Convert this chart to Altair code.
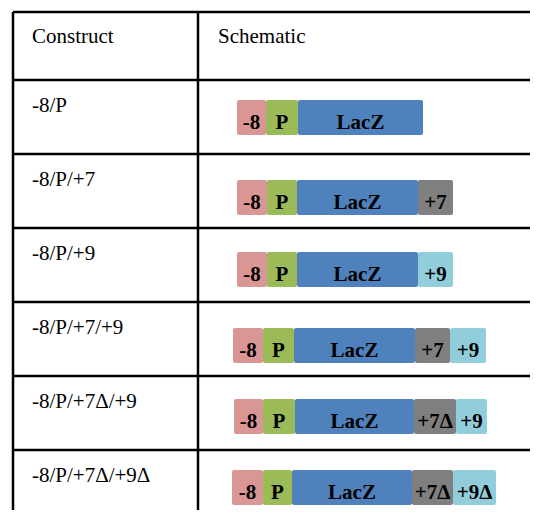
import altair as alt
import pandas as pd

# ---------------- data ----------------
headers = ["Construct", "Schematic"]
constructs = ["-8/P", "-8/P/+7", "-8/P/+9", "-8/P/+7/+9", "-8/P/+7Δ/+9", "-8/P/+7Δ/+9Δ"]

# table grid (row boundaries, column boundaries)
row_lines = [12, 80, 154, 228, 302, 376, 450]
col_lines = [13, 198]
table_right = 560
table_bottom = 560

# schematic bars: segment labels and segment edges per construct
seg_labels = [
    ["-8", "P", "LacZ"],
    ["-8", "P", "LacZ", "+7"],
    ["-8", "P", "LacZ", "+9"],
    ["-8", "P", "LacZ", "+7", "+9"],
    ["-8", "P", "LacZ", "+7Δ", "+9"],
    ["-8", "P", "LacZ", "+7Δ", "+9Δ"],
]
seg_edges = [
    [237, 266, 298, 423],
    [237, 267, 297, 418, 453],
    [237, 267, 297, 418, 453],
    [233, 263, 294, 415, 450, 486],
    [234, 263, 295, 414, 456, 487],
    [232, 263, 292, 412, 453, 496],
]
bar_tops = [100, 180, 252, 328, 399, 470]
bar_h = 35

parts = ["-8", "P", "LacZ", "+7", "+9"]
part_colors = ["#d99694", "#9bbb59", "#4f81bd", "#7f7f7f", "#92cddc"]

SERIF = "Liberation Serif"

# ---------------- tables ----------------
W, H = 522, 502
segs = []
for i, (labs, edges) in enumerate(zip(seg_labels, seg_edges)):
    for j, lab in enumerate(labs):
        segs.append({
            "x": edges[j], "x2": edges[j + 1],
            "y": bar_tops[i], "y2": bar_tops[i] + bar_h,
            "xm": (edges[j] + edges[j + 1]) / 2,
            "yt": bar_tops[i] + bar_h - 6,
            "label": lab, "part": lab.replace("Δ", ""),
        })
seg_df = pd.DataFrame(segs)

hl_df = pd.DataFrame({"y": row_lines, "x": [col_lines[0]] * len(row_lines),
                      "x2": [table_right] * len(row_lines)})
vl_df = pd.DataFrame({"x": col_lines, "y": [row_lines[0]] * len(col_lines),
                      "y2": [table_bottom] * len(col_lines)})

txt = [{"x": col_lines[0] + 19, "y": row_lines[0] + 31, "t": headers[0]},
       {"x": col_lines[1] + 20, "y": row_lines[0] + 31, "t": headers[1]}]
for i, c in enumerate(constructs):
    txt.append({"x": col_lines[0] + 19, "y": row_lines[i + 1] + 32, "t": c})
txt_df = pd.DataFrame(txt)

xs = alt.Scale(domain=[8, 8 + W])
ys = alt.Scale(domain=[8, 8 + H], reverse=True)

bars = alt.Chart(seg_df).mark_rect(cornerRadius=2).encode(
    x=alt.X("x:Q", scale=xs, axis=None), x2="x2:Q",
    y=alt.Y("y:Q", scale=ys, axis=None), y2="y2:Q",
    color=alt.Color("part:N", scale=alt.Scale(domain=parts, range=part_colors), legend=None),
)
bar_text = alt.Chart(seg_df).mark_text(
    font=SERIF, fontSize=21, fontWeight="bold", color="black",
    align="center", baseline="alphabetic",
).encode(x=alt.X("xm:Q", scale=xs, axis=None), y=alt.Y("yt:Q", scale=ys, axis=None), text="label:N")

hlines = alt.Chart(hl_df).mark_rule(color="black", strokeWidth=2.5).encode(
    x=alt.X("x:Q", scale=xs, axis=None), x2="x2:Q", y=alt.Y("y:Q", scale=ys, axis=None))
vlines = alt.Chart(vl_df).mark_rule(color="black", strokeWidth=2.5).encode(
    x=alt.X("x:Q", scale=xs, axis=None), y=alt.Y("y:Q", scale=ys, axis=None), y2="y2:Q")

labels = alt.Chart(txt_df).mark_text(
    font=SERIF, fontSize=21, color="black", align="left", baseline="alphabetic",
).encode(x=alt.X("x:Q", scale=xs, axis=None), y=alt.Y("y:Q", scale=ys, axis=None), text="t:N")

chart = alt.layer(hlines, vlines, bars, bar_text, labels).properties(
    width=W, height=H, padding=0, autosize=alt.AutoSizeParams(type="none"),
).configure_view(strokeWidth=0)

chart.save("out.html", embed_options={"renderer": "svg", "actions": False})
